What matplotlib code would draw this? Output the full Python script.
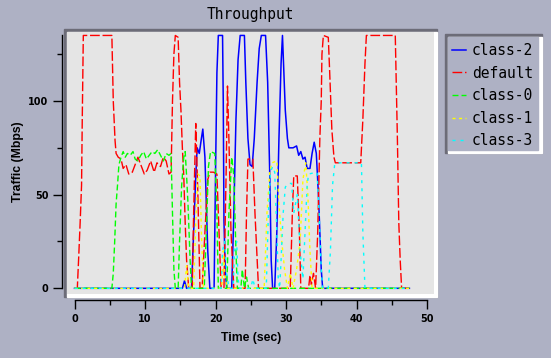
import matplotlib
matplotlib.use("Agg")
import matplotlib.pyplot as plt
from matplotlib.patches import Rectangle

# ---- data (time in s, traffic in Mbps) ----
class2_t = [0, 15.3, 15.6, 15.9, 16.6, 16.9, 17.2, 17.4, 17.7, 18.0, 18.2, 18.5, 18.9, 19.2,
            19.8, 20.0, 20.2, 20.4, 21.0, 21.1, 21.2, 21.4, 21.6, 22.3, 22.6, 22.9, 23.2, 23.5,
            24.1, 24.3, 24.6, 24.9, 25.2, 25.5, 25.9, 26.2, 26.5, 27.1, 27.4, 27.7, 27.9, 28.1,
            28.4, 28.7, 29.0, 29.3, 29.5, 29.7, 29.9, 30.2, 30.4, 31.0, 31.5, 31.8, 32.1, 32.4,
            32.7, 33.0, 33.4, 33.7, 34.0, 34.3, 34.6, 35.0, 35.2, 47.5]
class2_v = [0, 0, 4, 0, 0, 30, 60, 75, 72, 80, 85, 70, 20, 0,
            0, 60, 115, 135, 135, 100, 36, 8, 0, 0, 40, 90, 122, 135,
            135, 110, 80, 66, 65, 80, 110, 128, 135, 135, 110, 60, 15, 0,
            0, 30, 80, 120, 135, 115, 95, 80, 75, 75, 76, 71, 73, 69,
            70, 64, 64, 72, 78, 72, 50, 10, 0, 0]

default_t = [0, 0.4, 0.6, 0.8, 1.0, 1.1, 1.25, 5.3, 5.5, 5.75, 5.9, 6.2, 6.6, 6.9, 7.3, 7.7,
             8.2, 8.7, 9.0, 9.4, 9.9, 10.3, 10.8, 11.3, 11.7, 12.2, 12.6, 13.0, 13.4, 13.7,
             13.9, 14.1, 14.3, 14.7, 14.9, 15.1, 15.3, 15.5, 15.7, 15.9, 16.2, 16.7, 16.9, 17.2,
             17.5, 17.8, 18.1, 18.5, 18.9, 19.2, 19.7, 20.2, 20.5, 20.8, 21.2, 21.5, 21.7, 21.9,
             22.2, 22.6, 24.2, 24.4, 24.6, 25.3, 25.6, 26.1, 30.6, 30.9, 31.1, 31.6, 31.9, 32.1,
             33.2, 33.4, 33.6, 33.9, 34.2, 34.5, 34.8, 35.0, 35.1, 35.3, 36.0, 36.2, 36.5, 36.8,
             37.0, 40.6, 40.9, 41.2, 41.4, 45.5, 45.8, 46.0, 46.2, 46.4, 47.5]
default_v = [0, 0, 17, 35, 55, 90, 135, 135, 100, 79, 72, 70, 69, 64, 66, 61,
             62, 67, 70, 66, 61, 63, 68, 62, 67, 65, 70, 68, 61, 62,
             100, 125, 135, 134, 110, 95, 75, 60, 35, 15, 0, 0, 40, 88,
             50, 0, 0, 30, 58, 62, 62, 61, 30, 0, 0, 60, 108, 80,
             30, 0, 0, 40, 69, 69, 40, 0, 0, 40, 60, 60, 30, 0,
             0, 7, 2, 8, 0, 30, 80, 100, 125, 135, 134, 115, 85, 70,
             67, 67, 90, 120, 135, 135, 80, 35, 15, 0, 0]

class0_t = [0, 5.3, 5.5, 5.7, 5.9, 6.1, 6.3, 6.6, 6.9, 7.2, 7.5, 7.9, 8.3, 8.6, 9.0, 9.4,
            9.8, 10.2, 10.6, 11.0, 11.4, 11.8, 12.2, 12.6, 13.0, 13.4, 13.7, 13.9, 14.1, 14.3,
            14.7, 14.9, 15.2, 15.5, 15.7, 15.9, 16.1, 16.4, 16.6, 18.4, 18.7, 19.0, 19.3, 19.9,
            20.2, 20.4, 21.6, 21.9, 22.3, 22.6, 22.9, 23.1, 23.6, 23.8, 24.1, 24.4, 24.7, 47.5]
class0_v = [0, 0, 8, 25, 45, 55, 66, 70, 73, 70, 72, 71, 73, 69, 68, 71,
            73, 69, 71, 73, 72, 74, 71, 68, 72, 71, 72, 40, 10, 0,
            0, 25, 55, 70, 73, 60, 45, 15, 0, 0, 30, 65, 73, 72,
            40, 0, 0, 40, 70, 60, 20, 0, 0, 10, 0, 6, 0, 0]

class1_t = [0, 15.6, 15.9, 16.2, 16.9, 17.2, 17.5, 17.8, 18.0, 18.3, 20.9, 21.1, 21.4, 21.7,
            26.9, 27.3, 27.7, 28.0, 28.7, 29.0, 29.4, 29.8, 30.2, 30.6, 31.0, 31.5, 32.0,
            32.4, 32.8, 33.1, 33.4, 33.7, 47.5]
class1_v = [0, 0, 12, 0, 0, 35, 61, 60, 30, 0, 0, 20, 5, 0,
            0, 40, 62, 67, 68, 45, 25, 10, 0, 8, 0, 10, 25,
            58, 67, 50, 20, 0, 0]

class3_t = [0, 20.8, 21.0, 21.3, 21.6, 21.9, 22.5, 22.7, 23.0, 23.2, 23.4, 25.0, 25.3, 25.6,
            27.2, 27.5, 27.8, 28.1, 28.4, 28.7, 28.9, 29.1, 29.3, 29.6, 29.9, 30.3, 30.8, 31.1,
            31.6, 32.0, 32.4, 32.7, 33.0, 33.2, 34.4, 34.7, 35.0, 35.2, 36.0, 36.3, 36.6, 36.9,
            37.2, 40.7, 40.9, 41.2, 47.5]
class3_v = [0, 0, 20, 25, 8, 0, 0, 20, 25, 5, 0, 0, 5, 0,
            0, 40, 62, 65, 62, 30, 5, 0, 15, 40, 54, 56, 56, 40,
            50, 20, 5, 30, 55, 61, 62, 40, 10, 0, 0, 20, 55, 66,
            67, 67, 30, 0, 0]

series_names = ["class-2", "default", "class-0", "class-1", "class-3"]

W, H = 551, 358
BG = "#aeb1c4"


def fx(x):
    return x / W


def fy(y):
    return 1 - y / H


def box(x0, y0, x1, y1, color):
    # rectangle given in reference pixel coords (top-left origin)
    fig.patches.append(Rectangle((fx(x0), fy(y1)), (x1 - x0) / W, (y1 - y0) / H,
                                 transform=fig.transFigure, color=color, zorder=-5))


plt.rcParams["lines.scale_dashes"] = False

fig = plt.figure(figsize=(W / 100, H / 100), dpi=100, facecolor=BG)

# bevelled frame around the plot area
box(64, 29, 437, 297, "#6c6c78")
box(66.8, 31.6, 437, 297, "white")

# legend frame
box(445, 34, 541.7, 153.3, "#6c6c78")
box(448.3, 37.3, 541.7, 153.3, "white")
box(448.3, 37.3, 538.3, 150, BG)

# data area; pixel mapping: t=0 -> x 74.5, 7.05 px/s ; v=0 -> y 288.3, 1.873 px/Mbps
left, right, top, bottom = 67, 434, 32, 294
ax = fig.add_axes([fx(left), fy(bottom), (right - left) / W, (bottom - top) / H])
ax.set_zorder(2)
ax.set_facecolor("#e5e5e5")
ax.set_xlim((left - 74.5) / 7.05, (right - 74.5) / 7.05)
ax.set_ylim((288.3 - bottom) / 1.873, (288.3 - top) / 1.873)

styles = [
    dict(color="#0000ff", lw=1.1),
    dict(color="#ff0000", lw=1.0, dashes=(7, 2)),
    dict(color="#00ff00", lw=1.0, dashes=(4.3, 2.2)),
    dict(color="#ffff00", lw=1.0, dashes=(2.2, 2.5)),
    dict(color="#00ffff", lw=1.0, dashes=(2.2, 3.6)),
]
all_t = [class2_t, default_t, class0_t, class1_t, class3_t]
all_v = [class2_v, default_v, class0_v, class1_v, class3_v]
handles = []
for i, (tt, vv, st, name) in enumerate(zip(all_t, all_v, styles, series_names)):
    (ln,) = ax.plot(tt, vv, label=name, zorder=2 + i, **st)
    handles.append(ln)

# axes drawn xgraph style, offset from the data area
for s in ["top", "right"]:
    ax.spines[s].set_visible(False)
ax.spines["left"].set_position(("outward", 3.8))
ax.spines["bottom"].set_position(("outward", 4.6))
ax.spines["left"].set_bounds(0, 135)
ax.spines["bottom"].set_bounds(0, 50)
for s in ["left", "bottom"]:
    ax.spines[s].set_linewidth(1.0)

ax.set_xticks([0, 10, 20, 30, 40, 50])
ax.set_xticks([5, 15, 25, 35, 45], minor=True)
ax.set_yticks([0, 50, 100])
ax.set_yticks([25, 75, 125], minor=True)
ax.tick_params(which="major", length=6.5, width=1.0, direction="out")
ax.tick_params(which="minor", length=3.4, width=1.0, direction="out")
ax.tick_params(axis="y", pad=2.9)
ax.tick_params(axis="x", pad=3.5)
for lab in ax.get_xticklabels() + ax.get_yticklabels():
    lab.set_fontfamily("DejaVu Sans")
    lab.set_fontweight("bold")
    lab.set_fontsize(7)

fig.text(fx(250), fy(14), "Throughput", ha="center", va="center",
         family="DejaVu Sans Mono", fontsize=10.5)
fig.text(fx(251), fy(338), "Time (sec)", ha="center", va="center",
         family="Liberation Sans", weight="bold", fontsize=8.8)
fig.text(fx(18.5), fy(162), "Traffic (Mbps)", ha="center", va="center", rotation=90,
         family="Liberation Sans", weight="bold", fontsize=8.8)

ax.legend(handles=handles, loc="upper left", bbox_to_anchor=(fx(451.7), fy(43)),
          bbox_transform=fig.transFigure, frameon=False, borderpad=0, borderaxespad=0,
          handlelength=0.97, handletextpad=0.43, labelspacing=0.52,
          prop=dict(family="DejaVu Sans Mono", size=10.5))

fig.savefig("out.png", dpi=100, facecolor=BG)
